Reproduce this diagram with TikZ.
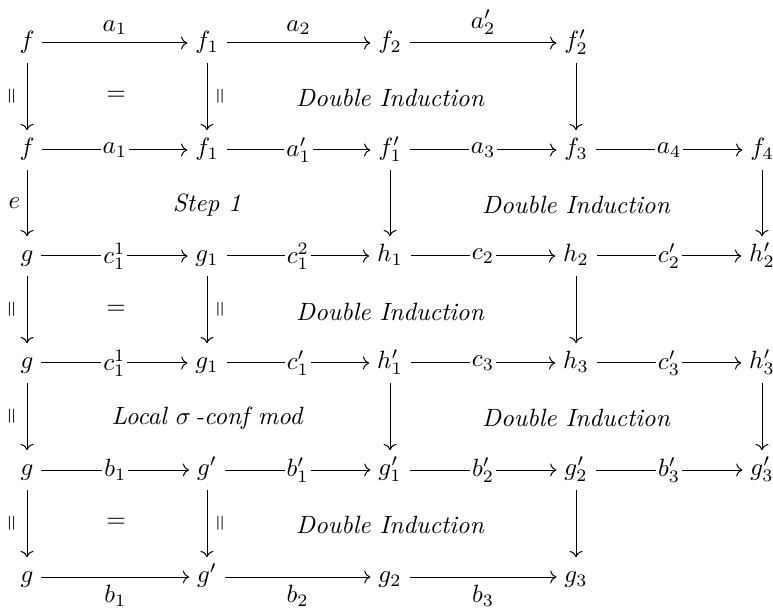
\documentclass[tikz,border=0pt]{standalone}
\usepackage{amsmath,amssymb,graphicx}
\usepackage{tikz}
\usetikzlibrary{arrows.meta}
\newcommand{\vEq}{\rotatebox{90}{$=$}}

\begin{document}
\begin{tikzpicture}[x=0.4pt,y=-0.4pt,>={Computer Modern Rightarrow},
obj/.style={inner sep=3pt,text height=1.6ex,text depth=.6ex},
map/.style={->,line width=0.4pt},
lab/.style={inner sep=3pt},
mid/.style={fill=white,inner sep=.8pt},
side/.style={inner sep=4pt},
bars/.style={side,font=\footnotesize},
note/.style={font=\itshape}]
\useasboundingbox (0,0) rectangle (773,612);
% row 1
\node[obj] (r1c1) at (27,43) {$f$};
\node[obj] (r1c2) at (207,43) {$f_1$};
\node[obj] (r1c3) at (390,43) {$f_2$};
\node[obj] (r1c4) at (576,43) {$f'_2$};
% row 2
\node[obj] (r2c1) at (27,150) {$f$};
\node[obj] (r2c2) at (207,150) {$f_1$};
\node[obj] (r2c3) at (390,150) {$f'_1$};
\node[obj] (r2c4) at (576,150) {$f_3$};
\node[obj] (r2c5) at (762,150) {$f_4$};
% row 3
\node[obj] (r3c1) at (27,256) {$g$};
\node[obj] (r3c2) at (207,256) {$g_1$};
\node[obj] (r3c3) at (390,256) {$h_1$};
\node[obj] (r3c4) at (576,256) {$h_2$};
\node[obj] (r3c5) at (762,256) {$h'_2$};
% row 4
\node[obj] (r4c1) at (27,363) {$g$};
\node[obj] (r4c2) at (207,363) {$g_1$};
\node[obj] (r4c3) at (390,363) {$h'_1$};
\node[obj] (r4c4) at (576,363) {$h_3$};
\node[obj] (r4c5) at (762,363) {$h'_3$};
% row 5
\node[obj] (r5c1) at (27,470) {$g$};
\node[obj] (r5c2) at (207,470) {$g'$};
\node[obj] (r5c3) at (390,470) {$g'_1$};
\node[obj] (r5c4) at (576,470) {$g'_2$};
\node[obj] (r5c5) at (762,470) {$g'_3$};
% row 6
\node[obj] (r6c1) at (27,577) {$g$};
\node[obj] (r6c2) at (207,577) {$g'$};
\node[obj] (r6c3) at (390,577) {$g_2$};
\node[obj] (r6c4) at (576,577) {$g_3$};
% horizontal maps
\draw[map] (r1c1) -- node[lab,above] {$a_1$} (r1c2);
\draw[map] (r1c2) -- node[lab,above] {$a_2$} (r1c3);
\draw[map] (r1c3) -- node[lab,above] {$a'_2$} (r1c4);
\draw[map] (r2c1) -- node[mid] {$a_1$} (r2c2);
\draw[map] (r2c2) -- node[mid] {$a'_1$} (r2c3);
\draw[map] (r2c3) -- node[mid] {$a_3$} (r2c4);
\draw[map] (r2c4) -- node[mid] {$a_4$} (r2c5);
\draw[map] (r3c1) -- node[mid] {$c^1_1$} (r3c2);
\draw[map] (r3c2) -- node[mid] {$c^2_1$} (r3c3);
\draw[map] (r3c3) -- node[mid] {$c_2$} (r3c4);
\draw[map] (r3c4) -- node[mid] {$c'_2$} (r3c5);
\draw[map] (r4c1) -- node[mid] {$c^1_1$} (r4c2);
\draw[map] (r4c2) -- node[mid] {$c'_1$} (r4c3);
\draw[map] (r4c3) -- node[mid] {$c_3$} (r4c4);
\draw[map] (r4c4) -- node[mid] {$c'_3$} (r4c5);
\draw[map] (r5c1) -- node[mid] {$b_1$} (r5c2);
\draw[map] (r5c2) -- node[mid] {$b'_1$} (r5c3);
\draw[map] (r5c3) -- node[mid] {$b'_2$} (r5c4);
\draw[map] (r5c4) -- node[mid] {$b'_3$} (r5c5);
\draw[map] (r6c1) -- node[lab,below] {$b_1$} (r6c2);
\draw[map] (r6c2) -- node[lab,below] {$b_2$} (r6c3);
\draw[map] (r6c3) -- node[lab,below] {$b_3$} (r6c4);
% vertical maps
\draw[map] (r1c1) -- node[bars,left] {\vEq} (r2c1);
\draw[map] (r2c1) -- node[side,left,inner sep=2.5pt] {$e$} (r3c1);
\draw[map] (r3c1) -- node[bars,left] {\vEq} (r4c1);
\draw[map] (r4c1) -- node[bars,left] {\vEq} (r5c1);
\draw[map] (r5c1) -- node[bars,left] {\vEq} (r6c1);
\draw[map] (r1c2) -- node[bars,right] {\vEq} (r2c2);
\draw[map] (r3c2) -- node[bars,right] {\vEq} (r4c2);
\draw[map] (r5c2) -- node[bars,right] {\vEq} (r6c2);
\draw[map] (r2c3) -- (r3c3);
\draw[map] (r4c3) -- (r5c3);
\draw[map] (r1c4) -- (r2c4);
\draw[map] (r3c4) -- (r4c4);
\draw[map] (r5c4) -- (r6c4);
\draw[map] (r2c5) -- (r3c5);
\draw[map] (r4c5) -- (r5c5);
% cell notes
\node (eq1) at (116,96) {$=$};
\node[note] (di1) at (390,98) {Double Induction};
\node[note] (st1) at (207,205) {Step 1};
\node[note] (di2) at (576,205) {Double Induction};
\node (eq2) at (116,310) {$=$};
\node[note] (di3) at (390,312) {Double Induction};
\node[note] (loc) at (207,418) {Local $\sigma$\,-conf mod};
\node[note] (di4) at (576,418) {Double Induction};
\node (eq3) at (116,523) {$=$};
\node[note] (di5) at (390,525) {Double Induction};
\end{tikzpicture}
\end{document}
